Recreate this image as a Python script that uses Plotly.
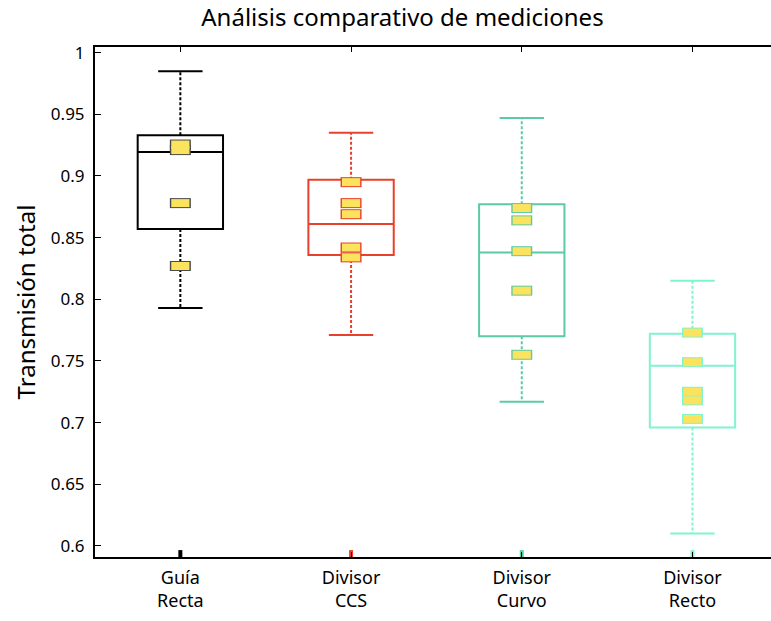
import plotly.graph_objects as go

# categories and box statistics
categories = ['Guía<br>Recta', 'Divisor<br>CCS', 'Divisor<br>Curvo', 'Divisor<br>Recto']
colors = ['#000000', '#e8402c', '#5ccba5', '#7ef4cf']
point_borders = ['#4a4a4a', '#e8402c', '#5ccba5', '#7ef4cf']

upper_whisker = [0.985, 0.935, 0.947, 0.815]
q3 = [0.933, 0.897, 0.877, 0.772]
median = [0.9195, 0.861, 0.838, 0.746]
q1 = [0.857, 0.836, 0.770, 0.696]
lower_whisker = [0.793, 0.771, 0.717, 0.610]

# individual measurements per group
points = [
    [0.9255, 0.921, 0.878, 0.827],
    [0.895, 0.878, 0.869, 0.842, 0.834],
    [0.874, 0.864, 0.839, 0.807, 0.755],
    [0.773, 0.749, 0.725, 0.718, 0.703],
]

y_min, y_max = 0.591, 1.0046
font = 'Noto Sans'

fig = go.Figure()

for i, cat in enumerate(categories):
    xpos = i + 1
    col = colors[i]

    # box body (whiskers drawn separately so they can be dotted)
    fig.add_trace(go.Box(
        x=[xpos], q1=[q1[i]], median=[median[i]], q3=[q3[i]],
        lowerfence=[q1[i]], upperfence=[q3[i]],
        width=0.5, whiskerwidth=0,
        line=dict(color=col, width=2),
        fillcolor='rgba(0,0,0,0)',
        boxpoints=False, hoverinfo='skip', showlegend=False,
    ))

    # dotted whiskers
    fig.add_trace(go.Scatter(
        x=[xpos, xpos, None, xpos, xpos],
        y=[q3[i], upper_whisker[i], None, q1[i], lower_whisker[i]],
        mode='lines', line=dict(color=col, width=2, dash='3px,2px'),
        hoverinfo='skip', showlegend=False,
    ))

    # whisker caps
    fig.add_trace(go.Scatter(
        x=[xpos - 0.13, xpos + 0.13, None, xpos - 0.13, xpos + 0.13],
        y=[upper_whisker[i], upper_whisker[i], None, lower_whisker[i], lower_whisker[i]],
        mode='lines', line=dict(color=col, width=2),
        hoverinfo='skip', showlegend=False,
    ))

    # measurement points as small rectangles (border + fill)
    xs = [xpos] * len(points[i])
    fig.add_trace(go.Scatter(
        x=xs, y=points[i], mode='markers',
        marker=dict(symbol='line-ew', size=15, line=dict(color=point_borders[i], width=10)),
        hoverinfo='skip', showlegend=False,
    ))
    fig.add_trace(go.Scatter(
        x=xs, y=points[i], mode='markers',
        marker=dict(symbol='line-ew', size=13, line=dict(color='#fbe35e', width=8)),
        showlegend=False,
    ))

    # small coloured tick on the bottom axis
    fig.add_trace(go.Scatter(
        x=[xpos], y=[y_min + 0.0022], mode='markers',
        marker=dict(symbol='line-ns', size=6, line=dict(color=col, width=4)),
        cliponaxis=False, hoverinfo='skip', showlegend=False,
    ))

fig.update_layout(
    width=771, height=621,
    margin=dict(l=95, r=0, t=47, b=64),
    paper_bgcolor='white', plot_bgcolor='white',
    title=dict(text='Análisis comparativo de mediciones', x=0.522, xanchor='center',
               y=0.971, yanchor='middle', font=dict(family=font, size=24, color='black')),
    font=dict(family=font, color='black'),
)

fig.update_xaxes(
    range=[0.5, 4.46], tickvals=[1, 2, 3, 4], ticktext=categories,
    ticks='inside', ticklen=5, tickcolor='black', tickfont=dict(size=18),
    ticklabelstandoff=3,
    showline=True, linecolor='black', linewidth=2, mirror='ticks',
    showgrid=False, zeroline=False,
)
fig.update_yaxes(
    range=[y_min, y_max],
    tickvals=[0.6, 0.65, 0.7, 0.75, 0.8, 0.85, 0.9, 0.95, 1],
    ticktext=['0.6', '0.65', '0.7', '0.75', '0.8', '0.85', '0.9', '0.95', '1'],
    ticks='inside', ticklen=6, tickcolor='black', tickfont=dict(size=17),
    ticklabelstandoff=5,
    showline=True, linecolor='black', linewidth=2, mirror=False,
    showgrid=False, zeroline=False,
    title=dict(text='Transmisión total', font=dict(size=24), standoff=8),
)

# drop the default page margin so the figure fills the window exactly
fig.write_html(
    "out.html",
    config={'displayModeBar': False},
    post_script="document.body.style.margin='0';document.body.style.overflow='hidden';",
)
